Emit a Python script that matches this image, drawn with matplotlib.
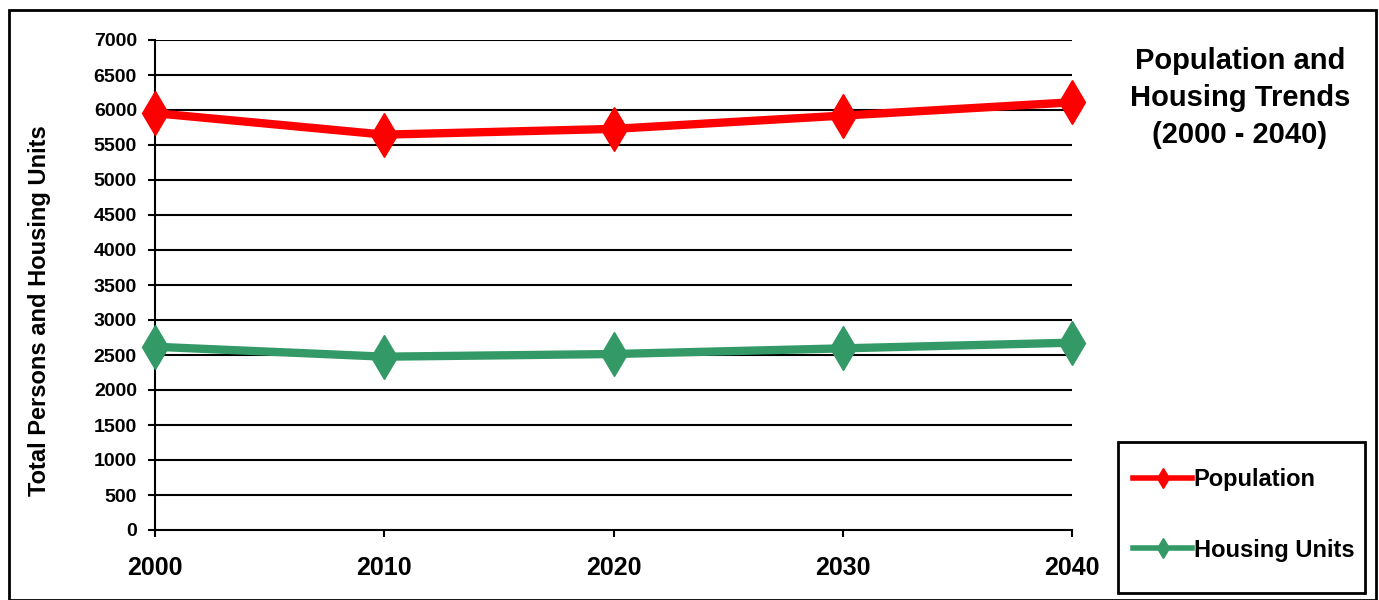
import matplotlib.pyplot as plt
from matplotlib.patches import Rectangle

plt.rcParams['font.family'] = ['Liberation Sans', 'DejaVu Sans']
plt.rcParams['font.weight'] = 'bold'

years = [2000, 2010, 2020, 2030, 2040]
population = [5955, 5648, 5730, 5920, 6110]
housing = [2618, 2476, 2514, 2595, 2676]
y_ticks = list(range(0, 7001, 500))

fig = plt.figure(figsize=(13.79, 6), dpi=100)
ax = fig.add_axes([155 / 1379, 70 / 600, 917 / 1379, 490 / 600])

for t in y_ticks[1:]:
    ax.axhline(t, color='black', lw=1.5, zorder=1)

ax.plot(years, population, color='#ff0000', lw=6, marker='d', ms=22,
        label='Population', clip_on=False, zorder=3)
ax.plot(years, housing, color='#339966', lw=6, marker='d', ms=22,
        label='Housing Units', clip_on=False, zorder=3)

ax.set_xlim(2000, 2040)
ax.set_ylim(0, 7000)
ax.set_xticks(years)
ax.set_yticks(y_ticks)
ax.tick_params(axis='y', labelsize=14, length=5, width=1.5, pad=8)
ax.tick_params(axis='x', labelsize=18, length=5, width=1.5, pad=14)
for s in ['top', 'right']:
    ax.spines[s].set_visible(False)
for s in ['left', 'bottom']:
    ax.spines[s].set_linewidth(1.5)

fig.text(40 / 1379, 1 - 311 / 600, 'Total Persons and Housing Units',
         rotation=90, ha='center', va='center', fontsize=17, fontweight='bold')

fig.text(1240 / 1379, 1 - 98 / 600, 'Population and\nHousing Trends\n(2000 - 2040)',
         ha='center', va='center', fontsize=21, fontweight='bold',
         multialignment='center', linespacing=1.42)

# legend box
fig.add_artist(Rectangle((1118 / 1379, 1 - 593 / 600), 247 / 1379, 151 / 600,
                         transform=fig.transFigure, fill=False, lw=2, ec='black'))
leg = fig.legend(loc='center left', bbox_to_anchor=(1124 / 1379, 1 - 515 / 600),
                 frameon=False, fontsize=17, markerscale=0.45, handlelength=2.5,
                 handletextpad=0.05, labelspacing=2.0, borderaxespad=0)
for line in leg.get_lines():
    line.set_linewidth(4)

# outer border
fig.add_artist(Rectangle((9 / 1379, 0), 1367 / 1379, 590 / 600,
                         transform=fig.transFigure, fill=False, lw=2, ec='black'))

fig.savefig('out.png', dpi=100)
